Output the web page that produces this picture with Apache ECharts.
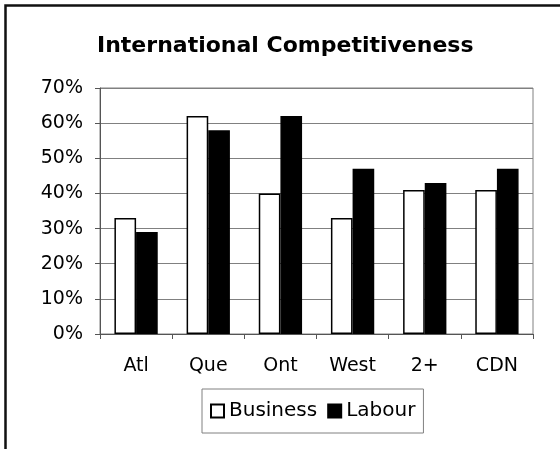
<!DOCTYPE html>
<html>
<head>
<meta charset="utf-8">
<script src="https://cdn.jsdelivr.net/npm/echarts@6/dist/echarts.min.js"></script>
<style>
  html, body { margin: 0; padding: 0; background: #fff; }
  #main { width: 560px; height: 449px; }
</style>
</head>
<body>
<div id="main"></div>
<script>
// data (percent)
var regions = ["Atl", "Que", "Ont", "West", "2+", "CDN"];
var business = [33, 62, 40, 33, 41, 41];
var labour = [29, 58, 62, 47, 43, 47];
var yTicks = [0, 70, 10]; // min, max, step

var font = "DejaVu Sans";

var myChart = echarts.init(document.getElementById("main"));

var option = {
  animation: false,
  backgroundColor: "#fff",
  title: {
    text: "International Competitiveness",
    left: 97,
    top: 35,
    padding: 0,
    textStyle: { fontFamily: font, fontSize: 22, fontWeight: "bold", color: "#000" }
  },
  // outer chart frame, only top/left edges are inside the picture
  graphic: [{
    type: "rect",
    shape: { x: 5.5, y: 5.5, width: 620, height: 520 },
    style: { fill: null, stroke: "#111", lineWidth: 2.5 },
    z: 100
  }],
  legend: {
    data: ["Business", "Labour"],
    left: 202,
    top: 389,
    padding: [12, 8, 12, 8],
    itemWidth: 13,
    itemHeight: 13,
    itemGap: 10,
    icon: "rect",
    borderColor: "#808080",
    borderWidth: 1,
    textStyle: { fontFamily: font, fontSize: 20, color: "#000" }
  },
  grid: {
    left: 100,
    right: 27,
    top: 88,
    bottom: 115,
    show: true,
    borderColor: "#808080",
    borderWidth: 1
  },
  xAxis: {
    type: "category",
    data: regions,
    axisLine: { lineStyle: { color: "#555", width: 1 } },
    axisTick: { show: true, length: 5, lineStyle: { color: "#555" } },
    axisLabel: { margin: 23, fontFamily: font, fontSize: 19, color: "#000" }
  },
  yAxis: {
    type: "value",
    min: yTicks[0],
    max: yTicks[1],
    interval: yTicks[2],
    axisLine: { show: true, lineStyle: { color: "#555", width: 1 } },
    axisTick: { show: true, length: 5, lineStyle: { color: "#555" } },
    axisLabel: { formatter: "{value}%", margin: 17, fontFamily: font, fontSize: 19, color: "#000" },
    splitLine: { lineStyle: { color: "#808080", width: 1 } }
  },
  series: [
    {
      name: "Business",
      type: "bar",
      data: business,
      barWidth: "30%",
      barGap: "0%",
      itemStyle: { color: "#fff", borderColor: "#000", borderWidth: 1.5 }
    },
    {
      name: "Labour",
      type: "bar",
      data: labour,
      barWidth: "30%",
      barGap: "0%",
      itemStyle: { color: "#000", borderColor: "#000", borderWidth: 1.5 }
    }
  ]
};

myChart.setOption(option);
</script>
</body>
</html>
